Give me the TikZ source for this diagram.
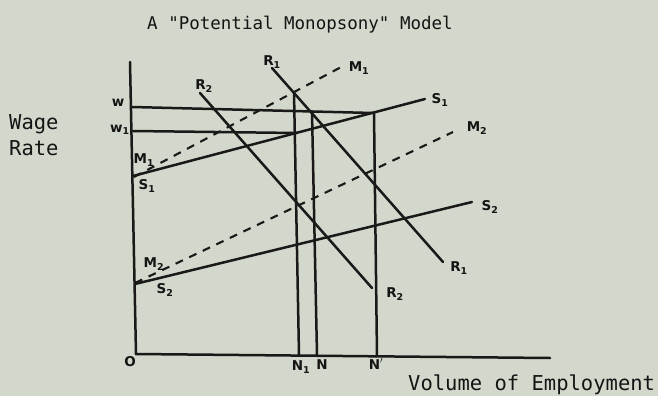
\documentclass[tikz,border=0pt]{standalone}
\usepackage{fontspec}
\setmonofont{DejaVu Sans Mono}
\newfontfamily\handfont{DejaVu Sans}
\begin{document}
\begin{tikzpicture}[x=1pt,y=-1pt,
  ln/.style={line width=2.5pt,draw=black!90,line cap=round},
  dsh/.style={line width=2.1pt,draw=black!90,dash pattern=on 8pt off 7pt},
  hand/.style={font=\handfont\bfseries\fontsize{13.5}{13.5}\selectfont,text=black!92,inner sep=0pt},
  typed/.style={font=\ttfamily\fontsize{20.5}{20.5}\selectfont,text=black!92,inner sep=0pt,anchor=base west}]
\fill[fill={rgb,255:red,211;green,216;blue,204}] (0,0) rectangle (658,396);
\useasboundingbox (0,0) rectangle (658,396);
% coordinates
\coordinate (ytop) at (130,62);
\coordinate (O) at (136,354);
\coordinate (xend) at (550,358);
\coordinate (wL) at (132,107);
\coordinate (wR) at (373,113);
\coordinate (w1L) at (133,131);
\coordinate (w1R) at (297,133);
\coordinate (S1a) at (133,176);
\coordinate (S1b) at (425,99);
\coordinate (S2a) at (135,284);
\coordinate (S2b) at (472,202);
\coordinate (R1a) at (272,68);
\coordinate (R1b) at (443,262);
\coordinate (R2a) at (200,93);
\coordinate (R2b) at (372,288);
\coordinate (M1a) at (134,177);
\coordinate (M1b) at (345,65);
\coordinate (M2a) at (135,283);
\coordinate (M2b) at (453,132);
\coordinate (N1t) at (294,92);
\coordinate (N1b) at (299,355);
\coordinate (Nt) at (312,112);
\coordinate (Nb) at (317,355);
\coordinate (Npt) at (374,113);
\coordinate (Npb) at (377,356);
% axes
\draw[ln] (ytop) -- (O) -- (xend);
% lines
\draw[ln] (wL) -- (wR);
\draw[ln] (w1L) -- (w1R);
\draw[ln] (S1a) -- (S1b);
\draw[ln] (S2a) -- (S2b);
\draw[ln] (R1a) -- (R1b);
\draw[ln] (R2a) -- (R2b);
\draw[dsh] (M1a) -- (M1b);
\draw[dsh] (M2a) -- (M2b);
\draw[ln] (N1t) -- (N1b);
\draw[ln] (Nt) -- (Nb);
\draw[ln] (Npt) -- (Npb);
% handwritten labels
\node[hand] (lw) at (118,103) {w};
\node[hand] (lw1) at (120,130) {w\textsubscript{1}};
\node[hand] (lM1l) at (144,160) {M\textsubscript{1}};
\node[hand] (lS1l) at (147,186) {S\textsubscript{1}};
\node[hand] (lR2t) at (204,86) {R\textsubscript{2}};
\node[hand] (lR1t) at (272,62) {R\textsubscript{1}};
\node[hand] (lM1r) at (359,68) {M\textsubscript{1}};
\node[hand] (lS1r) at (440,100) {S\textsubscript{1}};
\node[hand] (lM2r) at (477,128) {M\textsubscript{2}};
\node[hand] (lS2r) at (490,207) {S\textsubscript{2}};
\node[hand] (lR1b) at (459,268) {R\textsubscript{1}};
\node[hand] (lR2b) at (395,294) {R\textsubscript{2}};
\node[hand] (lM2l) at (154,264) {M\textsubscript{2}};
\node[hand] (lS2l) at (165,290) {S\textsubscript{2}};
\node[hand] (lO) at (130,362) {O};
\node[hand] (lN1) at (301,367) {N\textsubscript{1}};
\node[hand] (lN) at (322,365) {N};
\node[hand] (lNp) at (376,364) {N$'$};
% typed text
\node[typed,font=\ttfamily\fontsize{17.5}{17.5}\selectfont] (title) at (147,30) {A "Potential Monopsony" Model};
\node[typed] (wage) at (9,129) {Wage};
\node[typed] (rate) at (9,155) {Rate};
\node[typed] (vol) at (408,390) {Volume of Employment};
\end{tikzpicture}
\end{document}
